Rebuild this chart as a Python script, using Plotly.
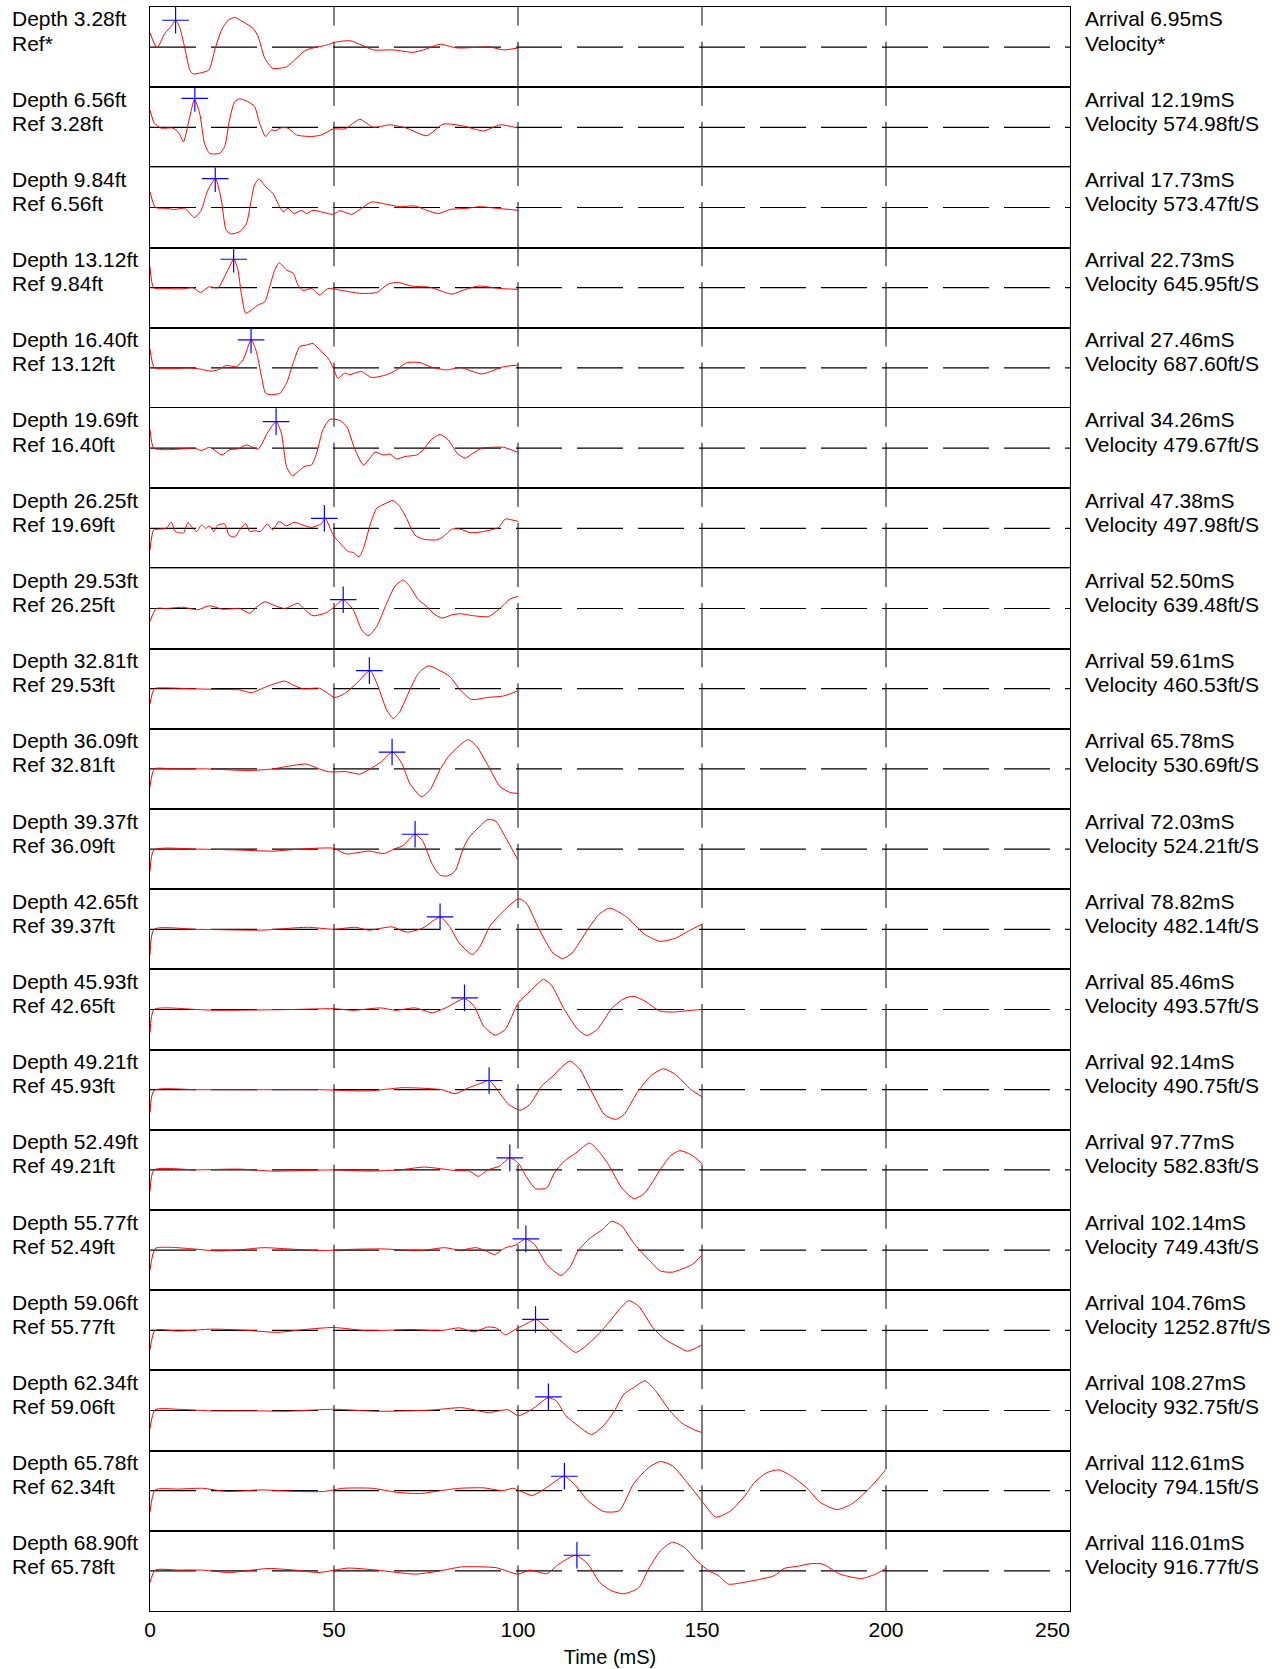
import plotly.graph_objects as go
from plotly.subplots import make_subplots

# ---------------- data ----------------
depth_ft = ["3.28", "6.56", "9.84", "13.12", "16.40", "19.69", "26.25", "29.53", "32.81", "36.09",
            "39.37", "42.65", "45.93", "49.21", "52.49", "55.77", "59.06", "62.34", "65.78", "68.90"]
ref_ft = ["*", "3.28", "6.56", "9.84", "13.12", "16.40", "19.69", "26.25", "29.53", "32.81",
          "36.09", "39.37", "42.65", "45.93", "49.21", "52.49", "55.77", "59.06", "62.34", "65.78"]
arrival_ms = [6.95, 12.19, 17.73, 22.73, 27.46, 34.26, 47.38, 52.50, 59.61, 65.78,
              72.03, 78.82, 85.46, 92.14, 97.77, 102.14, 104.76, 108.27, 112.61, 116.01]
velocity_fts = ["*", "574.98", "573.47", "645.95", "687.60", "479.67", "497.98", "639.48", "460.53", "530.69",
                "524.21", "482.14", "493.57", "490.75", "582.83", "749.43", "1252.87", "932.75", "794.15", "916.77"]
pick_amp = [0.67, 0.72, 0.72, 0.71, 0.70, 0.66, 0.25, 0.22, 0.45, 0.42,
            0.37, 0.31, 0.29, 0.23, 0.30, 0.28, 0.27, 0.34, 0.36, 0.39]
x_ticks = [0, 50, 100, 150, 200, 250]
x_tick_text = ["0", "50", "100", "150", "200", "250"]
grid_ms = [50, 100, 150, 200]

# waveform samples (time mS, normalised amplitude)
w01 = [(0, 0.36), (1.9, -0.02), (4, 0.34), (5.8, 0.52), (6.9, 0.67), (8.0, 0.51), (9.4, 0.0), (10.8, -0.57),
       (11.7, -0.67), (13.9, -0.64), (16.0, -0.57), (17.6, -0.07), (19.4, 0.42), (21.2, 0.67), (23.0, 0.74),
       (25.3, 0.63), (28.0, 0.47), (29.4, 0.26), (31.2, -0.28), (33.4, -0.53), (37.1, -0.49), (39.8, -0.28),
       (42.1, -0.09), (44.3, -0.02), (48.0, 0.05), (50.2, 0.12), (54.3, 0.16), (57.5, 0.05), (60.7, -0.07),
       (66.1, -0.07), (71.5, -0.13), (74.3, -0.07), (78.8, 0.07), (83.4, -0.02), (92.4, 0), (96.1, -0.07),
       (100.1, -0.02)]
w02 = [(0, 0.43), (1.2, 0.10), (3.0, -0.02), (6.2, -0.02), (7.9, -0.15), (9.1, -0.36), (10.6, 0.18), (12.1, 0.70),
       (13.5, 0.35), (14.8, -0.40), (16.2, -0.65), (18.9, -0.65), (20.3, -0.48), (21.6, 0.18), (23.0, 0.64),
       (24.4, 0.71), (26.6, 0.64), (28.4, 0.52), (29.8, 0.10), (31.4, -0.23), (33.0, -0.07), (34.3, -0.08),
       (35.7, -0.01), (37.5, -0.02), (39.8, -0.19), (43.9, -0.23), (46.6, -0.19), (49.8, -0.04), (53.0, -0.04),
       (57.0, 0.20), (60.7, 0), (65.2, 0.06), (69.7, -0.02), (75.2, -0.21), (79.7, 0.08), (85.2, 0.03),
       (90.6, -0.09), (95.1, 0.06), (100.1, -0.02)]
w03 = [(0, 0.39), (1.5, 0), (4.4, -0.02), (6.7, -0.05), (9.4, -0.02), (12.1, -0.25), (13.9, -0.07), (15.7, 0.43),
       (17.8, 0.72), (19.4, 0.18), (20.7, -0.57), (22.1, -0.66), (24.4, -0.60), (26.2, -0.40), (27.5, 0.18),
       (28.4, 0.56), (29.6, 0.71), (31.4, 0.52), (33.4, 0.35), (34.8, 0.10), (36.2, -0.11), (37.5, -0.02),
       (39.1, -0.15), (41.2, -0.07), (42.5, -0.15), (44.3, -0.07), (47.0, -0.12), (49.7, -0.17), (51.6, -0.08),
       (54.8, -0.17), (57.5, -0.02), (60.2, 0.14), (64.3, 0.08), (67.9, 0.02), (72.0, 0.04), (75.2, -0.07),
       (78.4, -0.15), (81.5, -0.05), (86.1, -0.02), (89.7, 0.02), (94.2, -0.02), (100.1, -0.07)]
w04 = [(0, 0.52), (1, 0), (4.4, -0.02), (8.5, -0.03), (11.7, 0), (13.7, -0.12), (16.0, 0.02), (18.5, 0),
       (20.7, 0.36), (22.8, 0.71), (23.9, 0.44), (24.8, -0.14), (26.0, -0.64), (27.5, -0.56), (29.4, -0.43),
       (31.2, -0.35), (32.5, 0.02), (33.9, 0.44), (35.1, 0.62), (37.1, 0.44), (38.9, 0.36), (40.2, 0.07),
       (41.6, -0.07), (43.9, -0.02), (46.1, -0.18), (48.4, -0.02), (51.6, -0.06), (57.0, -0.14), (61.6, -0.12),
       (64.7, 0.09), (67.5, 0.13), (71.1, 0.04), (76.1, 0.01), (82.0, -0.16), (85.2, -0.06), (89.2, 0.04),
       (95.1, -0.02), (100.1, -0.04)]
w05 = [(0, 0.47), (1.2, 0), (4.4, -0.02), (7.1, -0.02), (9.8, 0), (13.0, -0.02), (16.6, -0.08), (18.5, -0.05),
       (20.7, 0.06), (23.5, 0.03), (25.3, 0.20), (27.5, 0.70), (28.9, 0.41), (30.3, -0.22), (31.4, -0.63),
       (33.0, -0.67), (35.3, -0.63), (37.1, -0.38), (38.9, 0.12), (40.7, 0.53), (42.5, 0.57), (44.3, 0.61),
       (46.1, 0.45), (48.4, 0.24), (49.8, 0), (51.1, -0.26), (52.9, -0.13), (54.3, -0.17), (55.9, -0.12),
       (57.5, -0.09), (60.2, -0.24), (64.3, -0.17), (67.0, -0.05), (69.7, 0.13), (73.4, 0.13), (76.5, 0.02),
       (80.6, -0.05), (84.3, 0.01), (90.2, -0.15), (96.1, 0.03), (100.1, 0.07)]
w06 = [(0, 0.47), (1, 0), (4.4, -0.04), (8.9, -0.02), (12.1, 0), (13.9, -0.06), (16.2, 0.02), (19.6, -0.17),
       (21.6, -0.04), (23.9, -0.02), (26.2, 0.08), (29.4, -0.02), (32.1, 0.41), (34.3, 0.66), (35.7, 0.37),
       (37.1, -0.46), (38.7, -0.69), (40.7, -0.55), (42.1, -0.45), (43.9, -0.42), (45.3, -0.12), (47.0, 0.46),
       (48.9, 0.72), (51.6, 0.69), (53.5, 0.53), (55.7, -0.04), (58.0, -0.42), (59.8, -0.25), (61.2, -0.10),
       (63.4, -0.17), (65.2, -0.15), (67.0, -0.27), (69.3, -0.21), (72.5, -0.17), (74.3, -0.04), (76.5, 0.22),
       (78.8, 0.34), (81.1, 0.20), (83.4, -0.12), (85.6, -0.25), (87.9, -0.12), (90.2, 0), (93.3, 0.02),
       (96.1, 0.02), (100.1, -0.11)]
w07 = [(0, -0.54), (1, -0.04), (2.6, -0.02), (4.4, 0), (5.8, 0.15), (6.9, -0.08), (8.0, -0.11), (9.1, -0.12),
       (10.3, 0.14), (11.7, 0), (12.7, -0.08), (14.0, 0.08), (15.1, 0), (16.2, 0.06), (17.3, -0.08), (18.5, 0.08),
       (20.3, 0.11), (21.5, -0.17), (23.0, -0.22), (24.4, -0.04), (26.0, 0.12), (27.1, -0.08), (28.4, -0.06),
       (30.0, -0.08), (31.9, 0.11), (33.3, -0.04), (35.1, 0.17), (37.1, 0.06), (39.1, 0.15), (41.6, 0.08),
       (43.9, 0.02), (46.6, 0.12), (47.6, 0.25), (49.8, -0.17), (51.6, -0.37), (53.9, -0.58), (55.2, -0.60),
       (56.8, -0.71), (58.0, -0.50), (59.8, 0.08), (61.6, 0.50), (63.8, 0.61), (66.1, 0.69), (67.9, 0.54),
       (69.7, 0.25), (72.0, -0.17), (74.3, -0.27), (77.9, -0.29), (79.7, -0.21), (82.0, -0.02), (84.3, -0.02),
       (87.0, -0.11), (90.6, -0.08), (94.7, 0.02), (96.5, 0.23), (98.3, 0.21), (100.1, 0.17)]
w08 = [(0, -0.32), (1.7, 0), (4.4, 0), (8.9, 0.03), (13.0, -0.03), (16.2, 0.07), (19.8, -0.02), (24.4, 0),
       (27.1, -0.12), (28.9, 0.03), (31.2, 0.17), (33.4, 0.09), (36.6, 0), (40.2, 0.13), (42.1, -0.03),
       (44.3, -0.18), (48.0, -0.10), (50.2, 0.05), (52.5, 0.22), (55.2, -0.03), (57.5, -0.53), (59.3, -0.68),
       (61.6, -0.45), (64.3, 0.13), (66.6, 0.56), (68.8, 0.71), (70.6, 0.55), (72.9, 0.22), (75.2, 0.05),
       (77.0, -0.12), (79.3, -0.24), (82.0, -0.16), (84.3, -0.13), (87.9, -0.18), (92.0, -0.20), (94.7, -0.03),
       (97.9, 0.24), (100.1, 0.30)]
w09 = [(0, -0.38), (1.2, 0), (4.4, 0.02), (10.8, 0), (19.8, -0.02), (24.4, -0.03), (27.5, -0.10), (31.6, 0.05),
       (36.6, 0.19), (38.9, 0.09), (41.6, 0), (46.1, 0.01), (48.4, -0.12), (50.2, -0.22), (52.9, -0.12),
       (56.1, 0.13), (59.8, 0.45), (62.0, 0.05), (64.3, -0.53), (66.1, -0.74), (67.9, -0.57), (70.6, -0.03),
       (72.9, 0.38), (75.6, 0.57), (78.4, 0.47), (81.5, 0.30), (84.3, -0.03), (87.4, -0.27), (91.5, -0.22),
       (96.1, -0.18), (100.1, -0.05)]
w10 = [(0, -0.44), (1.2, 0), (6.2, 0), (15.3, 0), (27.1, -0.04), (33.4, 0), (37.1, 0.06), (42.5, 0.12),
       (45.2, 0.03), (48.4, -0.07), (53.4, -0.07), (57.0, -0.13), (59.8, 0), (62.9, 0.18), (65.9, 0.42),
       (68.4, 0.14), (70.6, -0.36), (73.8, -0.69), (76.1, -0.52), (78.8, -0.02), (81.1, 0.31), (83.8, 0.56),
       (86.5, 0.73), (88.8, 0.56), (92.0, 0.06), (95.1, -0.44), (97.9, -0.59), (100.1, -0.61)]
w11 = [(0, -0.55), (1.1, -0.02), (12.6, 0), (23.0, -0.02), (33.4, -0.05), (40.7, 0), (50, 0.02), (53.2, -0.12),
       (59.5, -0.05), (63.6, -0.11), (66.3, 0), (68.8, 0.09), (72.0, 0.37), (74.1, 0.20), (76.7, -0.38),
       (78.8, -0.65), (80.8, -0.67), (82.9, -0.55), (85.0, -0.01), (86.6, 0.28), (89.2, 0.53), (91.8, 0.74),
       (93.9, 0.70), (96.5, 0.31), (99.9, -0.26)]
w12 = [(0, -0.63), (1.1, 0), (12.6, 0), (30.3, -0.02), (42.8, 0.05), (50, 0), (55.8, 0.05), (59.5, -0.02),
       (65.7, 0.06), (69.9, -0.07), (74.1, 0.03), (78.9, 0.31), (81.4, 0.07), (84.0, -0.34), (87.6, -0.63),
       (89.7, -0.42), (92.3, 0.07), (96.0, 0.45), (100.1, 0.76), (102.2, 0.66), (105.8, -0.01), (109.5, -0.59),
       (112.1, -0.73), (114.7, -0.59), (118.9, -0.01), (122.0, 0.37), (124.9, 0.53), (129.3, 0.32),
       (134.5, -0.13), (138.6, -0.30), (142.8, -0.22), (147.0, -0.01), (150.1, 0.13)]
w13 = [(0, -0.58), (1.1, 0), (12.6, 0), (17.8, -0.02), (38.6, 0), (50, 0.02), (55.3, -0.02), (62.6, 0.04),
       (66.8, -0.02), (72.0, 0.04), (76.7, -0.08), (80.3, 0.04), (85.5, 0.27), (88.1, 0.08), (90.7, -0.42),
       (93.8, -0.64), (96.5, -0.50), (100.1, 0.17), (103.3, 0.46), (106.9, 0.75), (109.0, 0.62), (112.6, 0),
       (116.3, -0.50), (118.7, -0.65), (121.5, -0.50), (125.6, 0.04), (128.8, 0.27), (131.4, 0.33),
       (134.5, 0.21), (138.6, -0.04), (142.8, -0.06), (147.0, -0.02), (150.1, 0)]
w14 = [(0, -0.57), (1.1, -0.02), (12.6, 0), (28.2, 0), (45.9, 0), (59.5, -0.03), (68.8, 0.05), (79.3, 0),
       (82.9, -0.10), (86.6, 0.05), (90.2, 0.17), (92.2, 0.23), (94.9, -0.07), (97.5, -0.37), (100.6, -0.51),
       (103.2, -0.37), (106.4, 0.09), (109.5, 0.34), (112.1, 0.59), (114.2, 0.71), (116.8, 0.51), (119.9, -0.03),
       (123.5, -0.62), (126.5, -0.74), (128.8, -0.62), (132.4, -0.07), (136.0, 0.34), (139.5, 0.52),
       (142.8, 0.38), (147.0, 0), (150.1, -0.18)]
w15 = [(0, -0.53), (1.1, 0), (12.6, 0), (24.1, 0.02), (33.4, -0.03), (50, 0), (59.5, -0.03), (67.8, 0),
       (74.6, 0.07), (83.4, -0.02), (86.6, -0.02), (89.2, -0.16), (91.8, 0), (94.9, 0.09), (97.8, 0.30),
       (100.1, 0.17), (102.2, -0.16), (104.8, -0.47), (107.8, -0.45), (109.9, -0.07), (112.6, 0.22),
       (115.7, 0.42), (119.4, 0.67), (121.9, 0.47), (124.6, 0.13), (128.2, -0.45), (131.6, -0.72),
       (134.5, -0.57), (138.6, 0), (141.3, 0.34), (143.9, 0.48), (147.0, 0.38), (150.1, 0.15)]
w16 = [(0, -0.50), (1.4, 0.04), (5.1, 0.07), (10.4, 0.04), (18.3, -0.02), (23.6, 0), (30.8, 0.06), (39.3, 0.02),
       (47.2, -0.01), (55.1, 0.02), (63.0, 0.03), (73.6, -0.01), (80.1, 0.06), (84.1, 0), (88.7, 0.06),
       (91.3, -0.02), (93.6, -0.11), (96.6, 0.06), (99.2, 0.12), (102.1, 0.28), (104.5, 0.14), (107.8, -0.36),
       (111.7, -0.63), (114.3, -0.40), (116.3, -0.02), (119.6, 0.30), (122.9, 0.51), (125.5, 0.72),
       (128.2, 0.60), (131.4, 0.18), (135.4, -0.23), (138.7, -0.52), (142.0, -0.55), (147.3, -0.36),
       (149.9, -0.13)]
w17 = [(0, -0.48), (1.4, 0), (7.8, -0.02), (17.0, 0.03), (26.2, 0), (34.7, -0.05), (42.0, 0.02), (49.9, 0.07),
       (59.1, -0.01), (70.9, 0.02), (78.8, -0.01), (84.1, 0.06), (88.0, -0.04), (91.7, 0.08), (94.0, 0.06),
       (96.6, -0.11), (99.2, 0.02), (101.8, 0.14), (104.9, 0.27), (107.8, 0.06), (111.7, -0.27), (115.7, -0.55),
       (118.3, -0.40), (121.6, -0.12), (124.9, 0.22), (127.5, 0.52), (130.1, 0.74), (132.8, 0.60),
       (136.7, 0.06), (140.0, -0.23), (143.3, -0.40), (146.0, -0.52), (149.9, -0.37)]
w18 = [(0, -0.45), (1.4, 0.02), (7.8, 0.03), (17.0, -0.01), (30.1, -0.01), (36.7, -0.02), (49.9, 0.03),
       (61.7, -0.02), (76.2, 0.01), (84.7, 0.07), (92.0, -0.05), (97.2, 0.02), (100.1, -0.13), (103.8, 0.03),
       (108.2, 0.32), (110.4, 0.24), (113.0, -0.13), (116.3, -0.38), (120.0, -0.60), (123.6, -0.34),
       (126.2, -0.01), (128.8, 0.41), (131.4, 0.57), (134.5, 0.74), (137.4, 0.49), (141.3, -0.01),
       (144.6, -0.32), (147.9, -0.48), (149.9, -0.55)]
w19 = [(0, -0.54), (1.4, 0.02), (7.8, 0.04), (14.3, 0.06), (20.9, -0.02), (30.1, 0.02), (40.6, -0.02),
       (47.2, -0.02), (52.5, 0.06), (60.4, 0.06), (67.0, -0.04), (73.6, -0.07), (78.8, 0), (84.1, 0.06),
       (90.7, 0.07), (95.9, 0), (98.6, 0.06), (100.5, 0), (103.8, -0.12), (107.8, 0.08), (112.6, 0.36),
       (115.7, 0.12), (119.0, -0.25), (123.3, -0.52), (127.5, -0.50), (131.4, 0.17), (135.4, 0.57),
       (138.7, 0.73), (142.0, 0.62), (145.9, 0.21), (149.9, -0.25), (153.8, -0.66), (157.8, -0.50),
       (161.7, -0.12), (164.3, 0.21), (167.6, 0.45), (170.9, 0.52), (174.9, 0.33), (178.8, 0.04),
       (182.1, -0.29), (186.7, -0.47), (190.7, -0.33), (195.3, 0.04), (199.9, 0.52)]
w20 = [(0, -0.29), (1.4, 0.02), (7.8, 0.02), (14.3, 0.02), (21.6, -0.04), (32.1, 0.06), (39.3, 0.02),
       (45.9, -0.04), (53.8, 0.07), (61.7, 0.02), (72.1, -0.08), (78.8, 0), (84.7, 0.10), (94.0, 0.08),
       (100.0, -0.08), (103.2, 0.02), (107.8, -0.07), (111.1, 0.17), (115.7, 0.39), (119.0, 0.17),
       (122.2, -0.29), (125.5, -0.50), (128.8, -0.57), (132.8, -0.42), (135.4, 0.04), (138.7, 0.50),
       (142.0, 0.72), (145.3, 0.58), (148.6, 0.25), (151.9, 0), (154.5, -0.12), (157.2, -0.33), (161.1, -0.29),
       (165.7, -0.21), (169.6, -0.12), (172.3, 0.06), (176.2, 0.12), (179.5, 0.18), (182.8, 0.17),
       (187.5, -0.08), (193.3, -0.19), (197.2, -0.08), (199.9, 0.06)]

waves = [w01, w02, w03, w04, w05, w06, w07, w08, w09, w10,
         w11, w12, w13, w14, w15, w16, w17, w18, w19, w20]

# ---------------- layout constants ----------------
W, H = 1283, 1669
M_L, M_R, M_T, M_B = 150, 213, 7, 58
N = len(waves)
PLOT_H = H - M_T - M_B
PANEL_H = PLOT_H / N
FONT = "Liberation Sans, Arial, sans-serif"
NBSP = "\u00a0"

fig = make_subplots(rows=N, cols=1, shared_xaxes=True, vertical_spacing=0)


def py(p):
    return (H - M_B - p) / PLOT_H


ann_font = dict(family=FONT, size=21, color="black")
x_left = (10 - M_L) / (W - M_L - M_R)
x_right = (1083 - M_L) / (W - M_L - M_R)

for i in range(N):
    r = i + 1
    suffix = "" if r == 1 else str(r)
    xr, yr = "x" + suffix, "y" + suffix
    # center dashed line
    fig.add_shape(type="line", xref=xr, yref=yr, x0=0, x1=250, y0=0, y1=0,
                  line=dict(color="black", width=1.2, dash="46px,15px"), layer="below")
    # broken vertical grid lines
    for g in grid_ms:
        fig.add_shape(type="line", xref=xr, yref=yr, x0=g, x1=g, y0=1, y1=0.534,
                      line=dict(color="black", width=1), layer="below")
        fig.add_shape(type="line", xref=xr, yref=yr, x0=g, x1=g, y0=0.135, y1=-1,
                      line=dict(color="black", width=1), layer="below")

    t = [p[0] for p in waves[i]]
    a = [p[1] for p in waves[i]]
    fig.add_trace(go.Scatter(x=t, y=a, mode="lines",
                             line=dict(color="#ff0000", width=1, shape="spline", smoothing=0.6),
                             hoverinfo="skip", showlegend=False), row=r, col=1)
    fig.add_trace(go.Scatter(x=[arrival_ms[i]], y=[pick_amp[i]], mode="markers",
                             marker=dict(symbol="cross-thin", size=19, color="#0000ff",
                                         line=dict(color="#0000ff", width=1.2)),
                             hoverinfo="skip", showlegend=False), row=r, col=1)

    fig.update_yaxes(range=[-1, 1], showticklabels=False, ticks="", showgrid=False, zeroline=False,
                     showline=True, linecolor="black", linewidth=1, mirror=True, fixedrange=True,
                     row=r, col=1)

    top_px = M_T + PANEL_H * i
    fig.add_annotation(xref="paper", yref="paper", x=x_left, y=py(top_px + 12),
                       text=f"Depth {depth_ft[i]}ft", showarrow=False, xanchor="left", yanchor="middle",
                       font=ann_font)
    ref_txt = "Ref*" if ref_ft[i] == "*" else f"Ref {ref_ft[i]}ft"
    fig.add_annotation(xref="paper", yref="paper", x=x_left, y=py(top_px + 36),
                       text=ref_txt, showarrow=False, xanchor="left", yanchor="middle", font=ann_font)
    fig.add_annotation(xref="paper", yref="paper", x=x_right, y=py(top_px + 12),
                       text=f"Arrival {arrival_ms[i]:.2f}mS", showarrow=False, xanchor="left",
                       yanchor="middle", font=ann_font)
    vel_txt = "Velocity*" if velocity_fts[i] == "*" else f"Velocity {velocity_fts[i]}ft/S"
    fig.add_annotation(xref="paper", yref="paper", x=x_right, y=py(top_px + 36),
                       text=vel_txt, showarrow=False, xanchor="left", yanchor="middle", font=ann_font)

# last tick label is kept inside the plot edge (right-aligned), as in the original
tick_text = x_tick_text[:-1] + [x_tick_text[-1] + NBSP * 6]

fig.update_xaxes(range=[0, 250], showgrid=False, zeroline=False, showline=True, linecolor="black",
                 linewidth=1, mirror=True, ticks="", showticklabels=False, fixedrange=True)
fig.update_xaxes(row=N, col=1, showticklabels=True, tickvals=x_ticks, ticktext=tick_text,
                 tickfont=dict(family=FONT, size=21, color="black"), ticklabelstandoff=0,
                 title=dict(text="Time (mS)", font=dict(family=FONT, size=20, color="black"), standoff=9))

fig.update_layout(width=W, height=H, margin=dict(l=M_L, r=M_R, t=M_T, b=M_B, autoexpand=False),
                  paper_bgcolor="white", plot_bgcolor="white", showlegend=False,
                  font=dict(family=FONT, color="black"))

fig.write_html("out.html")
